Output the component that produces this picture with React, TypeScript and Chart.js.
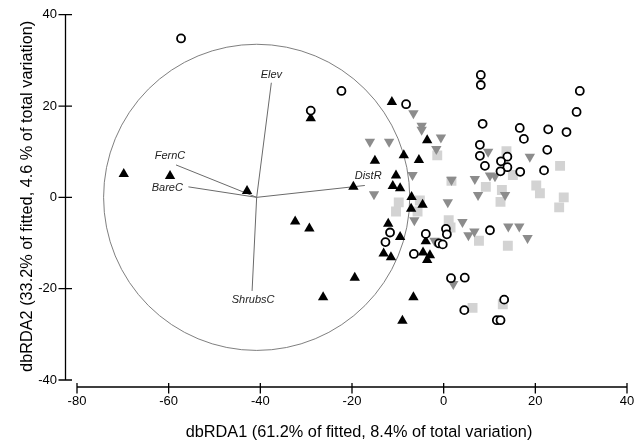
import React, { useEffect, useRef } from "react";
import { Chart, registerables } from "chart.js";

Chart.register(...registerables);

// ---------- data ----------
const xTicks = [-80, -60, -40, -20, 0, 20, 40];
const yTicks = [-40, -20, 0, 20, 40];
const xTitle = "dbRDA1 (61.2% of fitted, 8.4% of total variation)";
const yTitle = "dbRDA2 (33.2% of fitted, 4.6 % of total variation)";

// open circles
const circlePts: [number, number][] = [
  [-57.3, 34.8], [-22.3, 23.3], [-29.0, 19.0], [-8.2, 20.4], [8.1, 26.8], [8.1, 24.6],
  [29.7, 23.3], [29.0, 18.7], [8.5, 16.1], [16.6, 15.2], [22.8, 14.9], [26.8, 14.3],
  [17.5, 12.8], [7.9, 11.5], [22.6, 10.4], [7.9, 9.1], [13.9, 8.9], [12.5, 7.9],
  [9.0, 6.9], [13.9, 6.6], [12.4, 5.7], [16.7, 5.6], [21.9, 5.9], [10.1, -7.2],
  [-3.9, -8.0], [-11.7, -7.7], [-12.7, -9.8], [0.5, -6.9], [0.7, -8.1], [-1.0, -10.1],
  [-0.2, -10.3], [-6.5, -12.4], [1.6, -17.7], [4.6, -17.6], [13.2, -22.4], [4.5, -24.7],
  [11.6, -26.9], [12.4, -26.9],
];

// black triangles
const trianglePts: [number, number][] = [
  [-69.8, 5.1], [-59.7, 4.7], [-42.9, 1.4], [-29.0, 17.3], [-19.7, 2.3], [-32.4, -5.3],
  [-29.3, -6.8], [-19.4, -17.6], [-26.3, -21.9], [-11.3, 20.9], [-3.6, 12.5], [-15.0, 8.0],
  [-8.7, 9.2], [-5.4, 8.2], [-10.4, 4.8], [-11.1, 2.5], [-9.5, 2.0], [-7.0, 0.1],
  [-4.6, -1.6], [-7.1, -2.5], [-12.1, -5.8], [-9.5, -8.7], [-3.9, -9.6], [-13.1, -12.3],
  [-11.5, -13.1], [-4.5, -12.1], [-3.0, -12.7], [-3.6, -13.7], [-6.6, -21.9], [-9.0, -27.0],
];

// grey inverted triangles
const invTrianglePts: [number, number][] = [
  [-6.6, 18.4], [-4.8, 15.7], [-4.8, 14.8], [-0.6, 13.1], [-16.1, 12.2], [-11.9, 12.2],
  [-1.6, 10.6], [-6.8, 4.9], [-15.2, 0.7], [0.9, -1.1], [-6.4, -5.0], [4.1, -5.4],
  [5.4, -8.3], [6.7, -7.5], [2.1, -19.0], [9.7, 10.0], [18.8, 8.9], [6.8, 4.0],
  [10.1, 4.8], [11.2, 4.6], [7.5, 0.5], [13.4, 0.5], [14.1, -6.4], [16.5, -6.4],
  [18.3, -8.9], [1.7, 3.8], [-2.0, -9.5],
];

// light grey squares
const squarePts: [number, number][] = [
  [-1.4, 9.2], [1.7, 3.6], [9.2, 2.3], [12.7, 1.6], [12.4, -1.0], [13.7, 10.1],
  [15.1, 4.9], [20.2, 2.6], [21.0, 0.9], [25.4, 6.9], [26.2, 0.0], [25.2, -2.2],
  [-9.8, -1.1], [-10.4, -3.1], [-5.7, -3.1], [-5.2, -0.7], [1.1, -5.0], [1.5, -6.6],
  [7.7, -9.5], [14.0, -10.6], [6.3, -24.2], [12.9, -23.4],
];

// vectors (predictor overlay)
const vectorNames = ["Elev", "FernC", "BareC", "DistR", "ShrubsC"];
const vectorEndX = [-37.6, -58.4, -55.7, -17.2, -41.8];
const vectorEndY = [25.1, 7.1, 2.3, 2.6, -20.5];
const vectorOrigin = { x: -40.8, y: 0 };
const circleRadius = 33.4;

// ---------- styling ----------
const FONT = "'Liberation Sans', Arial, Helvetica, sans-serif";
const labelPlacement: Record<string, { align: CanvasTextAlign; dx: number; dy: number }> = {
  Elev: { align: "center", dx: 0, dy: -8 },
  FernC: { align: "center", dx: -6, dy: -8.5 },
  BareC: { align: "right", dx: -5.5, dy: 1.5 },
  DistR: { align: "center", dx: 3.3, dy: -9.5 },
  ShrubsC: { align: "center", dx: 1, dy: 9 },
};

const toXY = (arr: [number, number][]) => arr.map(([x, y]) => ({ x, y }));

const decorPlugin = {
  id: "decor",
  beforeDatasetsDraw(chart: any) {
    const { ctx, scales } = chart;
    const x = scales.x, y = scales.y;
    const cx = x.getPixelForValue(vectorOrigin.x);
    const cy = y.getPixelForValue(vectorOrigin.y);
    const r = Math.abs(x.getPixelForValue(vectorOrigin.x + circleRadius) - cx);
    ctx.save();
    ctx.beginPath();
    ctx.arc(cx, cy, r, 0, Math.PI * 2);
    ctx.strokeStyle = "#707070";
    ctx.lineWidth = 0.9;
    ctx.stroke();
    ctx.restore();
  },
  afterDatasetsDraw(chart: any) {
    const { ctx, scales } = chart;
    const x = scales.x, y = scales.y;
    ctx.save();
    ctx.font = `italic 11px ${FONT}`;
    ctx.fillStyle = "#222";
    ctx.textBaseline = "middle";
    vectorNames.forEach((name, i) => {
      const p = labelPlacement[name];
      ctx.textAlign = p.align;
      ctx.fillText(name, x.getPixelForValue(vectorEndX[i]) + p.dx, y.getPixelForValue(vectorEndY[i]) + p.dy);
    });
    ctx.restore();
  },
  afterDraw(chart: any) {
    const { ctx, scales, chartArea } = chart;
    const x = scales.x, y = scales.y;
    const axisX = chartArea.left - 11.5;
    const axisY = chartArea.bottom + 7;
    ctx.save();
    ctx.strokeStyle = "#000";
    ctx.lineWidth = 1.3;
    // y axis
    ctx.beginPath();
    ctx.moveTo(axisX, y.getPixelForValue(yTicks[yTicks.length - 1]));
    ctx.lineTo(axisX, y.getPixelForValue(yTicks[0]));
    yTicks.forEach((t) => {
      const py = y.getPixelForValue(t);
      ctx.moveTo(axisX - 7, py);
      ctx.lineTo(axisX + 6.5, py);
    });
    // x axis
    ctx.moveTo(x.getPixelForValue(xTicks[0]), axisY);
    ctx.lineTo(x.getPixelForValue(xTicks[xTicks.length - 1]), axisY);
    xTicks.forEach((t) => {
      const px = x.getPixelForValue(t);
      ctx.moveTo(px, axisY - 4);
      ctx.lineTo(px, axisY + 6.5);
    });
    ctx.stroke();

    // tick labels
    ctx.fillStyle = "#000";
    ctx.font = `13px ${FONT}`;
    ctx.textAlign = "right";
    ctx.textBaseline = "middle";
    yTicks.forEach((t) => ctx.fillText(String(t), axisX - 8.5, y.getPixelForValue(t)));
    ctx.textAlign = "center";
    ctx.textBaseline = "top";
    xTicks.forEach((t) => ctx.fillText(String(t), x.getPixelForValue(t), axisY + 7.5));

    // titles
    ctx.font = `16.3px ${FONT}`;
    ctx.textBaseline = "alphabetic";
    ctx.textAlign = "center";
    ctx.fillText(xTitle, (chartArea.left + chartArea.right) / 2 + 7, 437);
    ctx.save();
    ctx.translate(31.5, (chartArea.top + chartArea.bottom) / 2 - 1);
    ctx.rotate(-Math.PI / 2);
    ctx.fillText(yTitle, 0, 0);
    ctx.restore();
    ctx.restore();
  },
};

export default function App() {
  const ref = useRef<HTMLCanvasElement | null>(null);
  useEffect(() => {
    document.body.style.margin = "0";
    if (!ref.current) return;
    const vectorSets = vectorNames.map((name, i) => ({
      type: "line" as const,
      label: name,
      data: [
        { x: vectorOrigin.x, y: vectorOrigin.y },
        { x: vectorEndX[i], y: vectorEndY[i] },
      ],
      showLine: true,
      borderColor: "#6a6a6a",
      borderWidth: 1,
      pointRadius: 0,
      fill: false,
      order: 5,
    }));
    const chart = new Chart(ref.current, {
      type: "scatter",
      data: {
        datasets: [
          {
            label: "circles",
            data: toXY(circlePts),
            pointStyle: "circle",
            pointRadius: 4,
            borderWidth: 1.8,
            borderColor: "#000",
            backgroundColor: "#fff",
            order: 0,
          },
          {
            label: "triangles",
            data: toXY(trianglePts),
            pointStyle: "triangle",
            pointRadius: 6,
            borderWidth: 0,
            backgroundColor: "#000",
            borderColor: "#000",
            order: 1,
          },
          {
            label: "inverted",
            data: toXY(invTrianglePts),
            pointStyle: "triangle",
            pointRotation: 180,
            pointRadius: 6,
            borderWidth: 0,
            backgroundColor: "#8c8c8c",
            borderColor: "#8c8c8c",
            order: 2,
          },
          {
            label: "squares",
            data: toXY(squarePts),
            pointStyle: "rect",
            pointRadius: 7,
            borderWidth: 0,
            backgroundColor: "#d3d3d3",
            borderColor: "#d3d3d3",
            order: 3,
          },
          ...vectorSets,
        ] as any,
      },
      options: {
        responsive: false,
        animation: false,
        layout: { padding: { top: 14.7, right: 16, left: 0, bottom: 0 } },
        plugins: { legend: { display: false }, tooltip: { enabled: false } },
        scales: {
          x: {
            type: "linear",
            min: -80,
            max: 40,
            grid: { display: false, drawTicks: false },
            border: { display: false },
            ticks: { display: false },
            afterFit(s: any) {
              s.height = 64;
            },
          },
          y: {
            type: "linear",
            min: -40,
            max: 40,
            grid: { display: false, drawTicks: false },
            border: { display: false },
            ticks: { display: false },
            afterFit(s: any) {
              s.width = 77;
            },
          },
        },
      } as any,
      plugins: [decorPlugin],
    });
    return () => chart.destroy();
  }, []);
  return <canvas ref={ref} width={643} height={444} style={{ display: "block" }} />;
}
